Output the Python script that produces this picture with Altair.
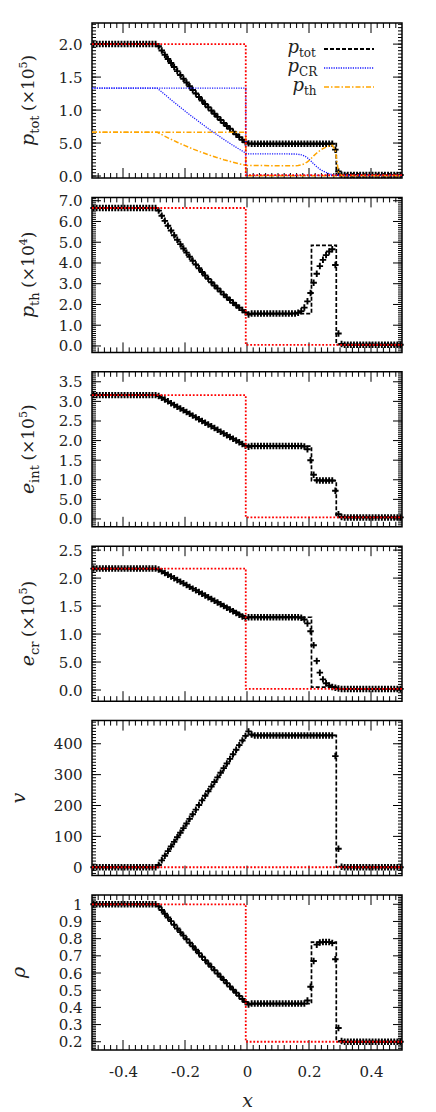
import altair as alt
import pandas as pd

FONT = "DejaVu Serif"
TXT = "#222222"
W, H = 310, 155
GAP = 19.4

# ---------------- data ----------------
X_SIM = [
    -0.495, -0.485, -0.475, -0.465, -0.455, -0.445, -0.435, -0.425, -0.415, -0.405,
    -0.395, -0.385, -0.375, -0.365, -0.355, -0.345, -0.335, -0.325, -0.315, -0.305,
    -0.295, -0.285, -0.275, -0.265, -0.255, -0.245, -0.235, -0.225, -0.215, -0.205,
    -0.195, -0.185, -0.175, -0.165, -0.155, -0.145, -0.135, -0.125, -0.115, -0.105,
    -0.095, -0.085, -0.075, -0.065, -0.055, -0.045, -0.035, -0.025, -0.015, -0.005,
    0.005, 0.015, 0.025, 0.035, 0.045, 0.055, 0.065, 0.075, 0.085, 0.095,
    0.105, 0.115, 0.125, 0.135, 0.145, 0.155, 0.165, 0.175, 0.185, 0.195,
    0.205, 0.215, 0.225, 0.235, 0.245, 0.255, 0.265, 0.275, 0.285, 0.295,
    0.305, 0.315, 0.325, 0.335, 0.345, 0.355, 0.365, 0.375, 0.385, 0.395,
    0.405, 0.415, 0.425, 0.435, 0.445, 0.455, 0.465, 0.475, 0.485, 0.495,
]

P_TOT_SIM = [  # x 1e5
    2.0, 2.0, 2.0, 2.0, 2.0, 2.0, 2.0, 2.0, 2.0, 2.0,
    2.0, 2.0, 2.0, 2.0, 2.0, 2.0, 2.0, 2.0, 2.0, 2.0,
    2.0, 1.967, 1.902, 1.838, 1.775, 1.713, 1.652, 1.591, 1.532, 1.474,
    1.417, 1.360, 1.305, 1.250, 1.197, 1.145, 1.093, 1.042, 0.993, 0.944,
    0.897, 0.850, 0.804, 0.759, 0.716, 0.673, 0.631, 0.590, 0.550, 0.511,
    0.495, 0.49, 0.49, 0.49, 0.49, 0.49, 0.49, 0.49, 0.49, 0.49,
    0.49, 0.49, 0.49, 0.49, 0.49, 0.49, 0.49, 0.49, 0.49, 0.49,
    0.49, 0.49, 0.49, 0.49, 0.49, 0.49, 0.49, 0.49, 0.40, 0.07,
    0.02, 0.015, 0.015, 0.015, 0.015, 0.015, 0.015, 0.015, 0.015, 0.015,
    0.015, 0.015, 0.015, 0.015, 0.015, 0.015, 0.015, 0.015, 0.015, 0.015,
]

P_TH_SIM = [  # x 1e4
    6.65, 6.65, 6.65, 6.65, 6.65, 6.65, 6.65, 6.65, 6.65, 6.65,
    6.65, 6.65, 6.65, 6.65, 6.65, 6.65, 6.65, 6.65, 6.65, 6.65,
    6.65, 6.523, 6.274, 6.031, 5.796, 5.565, 5.339, 5.121, 4.907, 4.700,
    4.497, 4.301, 4.110, 3.924, 3.744, 3.568, 3.398, 3.233, 3.072, 2.917,
    2.766, 2.621, 2.480, 2.344, 2.212, 2.085, 1.962, 1.844, 1.729, 1.620,
    1.52, 1.56, 1.56, 1.56, 1.56, 1.56, 1.56, 1.56, 1.56, 1.56,
    1.56, 1.56, 1.56, 1.56, 1.56, 1.57, 1.60, 1.68, 1.85, 2.15,
    2.55, 3.05, 3.48, 3.85, 4.15, 4.38, 4.55, 4.66, 3.90, 0.60,
    0.10, 0.06, 0.06, 0.06, 0.06, 0.06, 0.06, 0.06, 0.06, 0.06,
    0.06, 0.06, 0.06, 0.06, 0.06, 0.06, 0.06, 0.06, 0.06, 0.06,
]

E_INT_SIM = [  # x 1e5
    3.16, 3.16, 3.16, 3.16, 3.16, 3.16, 3.16, 3.16, 3.16, 3.16,
    3.16, 3.16, 3.16, 3.16, 3.16, 3.16, 3.16, 3.16, 3.16, 3.16,
    3.16, 3.137, 3.092, 3.046, 3.001, 2.955, 2.910, 2.865, 2.819, 2.774,
    2.728, 2.683, 2.637, 2.592, 2.546, 2.501, 2.455, 2.410, 2.365, 2.319,
    2.274, 2.228, 2.183, 2.137, 2.092, 2.046, 2.001, 1.956, 1.910, 1.865,
    1.84, 1.86, 1.86, 1.86, 1.86, 1.86, 1.86, 1.86, 1.86, 1.86,
    1.86, 1.86, 1.86, 1.86, 1.86, 1.86, 1.86, 1.86, 1.85, 1.78,
    1.50, 1.13, 0.99, 0.98, 0.98, 0.98, 0.98, 0.98, 0.72, 0.12,
    0.05, 0.04, 0.04, 0.04, 0.04, 0.04, 0.04, 0.04, 0.04, 0.04,
    0.04, 0.04, 0.04, 0.04, 0.04, 0.04, 0.04, 0.04, 0.04, 0.04,
]

E_CR_SIM = [  # x 1e5
    2.17, 2.17, 2.17, 2.17, 2.17, 2.17, 2.17, 2.17, 2.17, 2.17,
    2.17, 2.17, 2.17, 2.17, 2.17, 2.17, 2.17, 2.17, 2.17, 2.17,
    2.17, 2.154, 2.123, 2.092, 2.061, 2.030, 1.999, 1.968, 1.937, 1.906,
    1.875, 1.843, 1.812, 1.781, 1.750, 1.719, 1.688, 1.657, 1.626, 1.595,
    1.564, 1.532, 1.501, 1.470, 1.439, 1.408, 1.377, 1.346, 1.315, 1.284,
    1.30, 1.30, 1.30, 1.30, 1.30, 1.30, 1.30, 1.30, 1.30, 1.30,
    1.30, 1.30, 1.30, 1.30, 1.30, 1.30, 1.30, 1.29, 1.26, 1.19,
    1.05, 0.80, 0.52, 0.31, 0.19, 0.12, 0.08, 0.055, 0.04, 0.025,
    0.02, 0.02, 0.02, 0.02, 0.02, 0.02, 0.02, 0.02, 0.02, 0.02,
    0.02, 0.02, 0.02, 0.02, 0.02, 0.02, 0.02, 0.02, 0.02, 0.02,
]

V_SIM = [
    0, 0, 0, 0, 0, 0, 0, 0, 0, 0,
    0, 0, 0, 0, 0, 0, 0, 0, 0, 0,
    0, 7.5, 22.4, 37.3, 52.3, 67.2, 82.1, 97.0, 112.0, 126.9,
    141.8, 156.8, 171.7, 186.6, 201.6, 216.5, 231.4, 246.3, 261.3, 276.2,
    291.1, 306.1, 321.0, 335.9, 350.9, 365.8, 380.7, 395.6, 410.6, 425.5,
    440, 430, 427, 427, 427, 427, 427, 427, 427, 427,
    427, 427, 427, 427, 427, 427, 427, 427, 427, 427,
    427, 427, 427, 427, 427, 427, 427, 427, 360, 60,
    2, 0, 0, 0, 0, 0, 0, 0, 0, 0,
    0, 0, 0, 0, 0, 0, 0, 0, 0, 0,
]

RHO_SIM = [
    1.0, 1.0, 1.0, 1.0, 1.0, 1.0, 1.0, 1.0, 1.0, 1.0,
    1.0, 1.0, 1.0, 1.0, 1.0, 1.0, 1.0, 1.0, 1.0, 1.0,
    1.0, 0.9889, 0.9670, 0.9451, 0.9234, 0.9019, 0.8805, 0.8593, 0.8382, 0.8173,
    0.7965, 0.7759, 0.7555, 0.7352, 0.7150, 0.6950, 0.6751, 0.6554, 0.6359, 0.6165,
    0.5972, 0.5782, 0.5592, 0.5404, 0.5218, 0.5033, 0.4850, 0.4668, 0.4488, 0.4309,
    0.416, 0.422, 0.422, 0.422, 0.422, 0.422, 0.422, 0.422, 0.422, 0.422,
    0.422, 0.422, 0.422, 0.422, 0.422, 0.422, 0.422, 0.422, 0.422, 0.44,
    0.52, 0.67, 0.765, 0.778, 0.78, 0.78, 0.78, 0.775, 0.68, 0.28,
    0.205, 0.2, 0.2, 0.2, 0.2, 0.2, 0.2, 0.2, 0.2, 0.2,
    0.2, 0.2, 0.2, 0.2, 0.2, 0.2, 0.2, 0.2, 0.2, 0.2,
]

# panel 1 coloured simulation curves (x 1e5)
X_P1_LINES = [-0.5, -0.29, -0.27, -0.25, -0.225, -0.2, -0.175, -0.15, -0.125, -0.1,
              -0.075, -0.05, -0.025, 0.0, 0.155, 0.165, 0.175, 0.185, 0.195, 0.205,
              0.215, 0.225, 0.235, 0.245, 0.255, 0.265, 0.275, 0.285, 0.295, 0.305, 0.5]
P_CR_LINE = [1.333, 1.333, 1.255, 1.176, 1.079, 0.985, 0.894, 0.806, 0.719, 0.636,
             0.556, 0.479, 0.406, 0.336, 0.334, 0.330, 0.322, 0.305, 0.275, 0.235,
             0.185, 0.142, 0.105, 0.075, 0.054, 0.035, 0.024, 0.015, 0.010, 0.008, 0.008]
P_TH_LINE = [0.665, 0.665, 0.615, 0.568, 0.512, 0.460, 0.411, 0.366, 0.323, 0.284,
             0.248, 0.215, 0.184, 0.158, 0.157, 0.160, 0.168, 0.185, 0.215, 0.255,
             0.305, 0.348, 0.385, 0.415, 0.438, 0.455, 0.466, 0.39, 0.06, 0.008, 0.006]

# analytic solutions
AN_X_RAREF = [-0.5, -0.29, -0.25, -0.2, -0.15, -0.1, -0.05, 0.0, 0.288, 0.288, 0.5]
AN_P_TOT = [2.0, 2.0, 1.744, 1.445, 1.171, 0.920, 0.694, 0.49, 0.49, 0.015, 0.015]
AN_X_CONT = [-0.5, -0.29, -0.25, -0.2, -0.15, -0.1, -0.05, 0.0, 0.208, 0.208, 0.288, 0.288, 0.5]
AN_P_TH = [6.65, 6.65, 5.68, 4.598, 3.655, 2.841, 2.148, 1.56, 1.56, 4.85, 4.85, 0.06, 0.06]
AN_RHO = [1.0, 1.0, 0.9127, 0.8069, 0.705, 0.6069, 0.5125, 0.422, 0.422, 0.78, 0.78, 0.2, 0.2]
AN_X_LIN = [-0.5, -0.29, 0.0, 0.208, 0.208, 0.288, 0.288, 0.5]
AN_E_INT = [3.16, 3.16, 1.86, 1.86, 0.98, 0.98, 0.04, 0.04]
AN_E_CR = [2.17, 2.17, 1.30, 1.30, 0.05, 0.05, 0.02, 0.02]
AN_X_V = [-0.5, -0.29, 0.0, 0.288, 0.288, 0.5]
AN_V = [0, 0, 427, 427, 0, 0]

# initial conditions
INI_X = [-0.5, -0.004, -0.004, 0.5]
INI_P_TOT = [2.0, 2.0, 0.015, 0.015]
INI_P_CR = [1.333, 1.333, 0.008, 0.008]
INI_P_TH5 = [0.665, 0.665, 0.006, 0.006]
INI_P_TH = [6.65, 6.65, 0.05, 0.05]
INI_E_INT = [3.16, 3.16, 0.04, 0.04]
INI_E_CR = [2.17, 2.17, 0.02, 0.02]
INI_V = [0, 0, 0, 0]
INI_RHO = [1.0, 1.0, 0.2, 0.2]

X_TICK_LABELS = [-0.4, -0.2, 0.0, 0.2, 0.4]

# ---------------- helpers ----------------
XS = alt.Scale(domain=[-0.5, 0.5], nice=False, zero=False)
PLUS = "M-1,0L1,0M0,-1L0,1"
X_MIN = [round(-0.48 + 0.02 * i, 2) for i in range(49)]
X_MIN = [v for v in X_MIN if all(abs(v - m) > 1e-9 for m in X_TICK_LABELS)]


def steps(lo, hi, step):
    n = int(round((hi - lo) / step))
    return [round(lo + step * i, 4) for i in range(n + 1)]


def line_df(xs, ys):
    return pd.DataFrame({"x": xs, "y": ys, "i": list(range(len(xs)))})


def one():
    return pd.DataFrame({"a": [0]})


def rot_title(pieces, xb, y0):
    out = []
    for txt, size, style, dx, dy in pieces:
        out.append(
            alt.Chart(pd.DataFrame({"t": [txt]}))
            .mark_text(angle=270, align="left", baseline="alphabetic", font=FONT,
                       fontSize=size, fontStyle=style, color=TXT, dx=dx, dy=dy)
            .encode(text="t:N", x=alt.value(xb), y=alt.value(y0))
        )
    return out


def text_at(txt, x, y, size, style, align):
    return (
        alt.Chart(pd.DataFrame({"t": [txt]}))
        .mark_text(align=align, baseline="alphabetic", font=FONT, fontSize=size,
                   fontStyle=style, color=TXT)
        .encode(text="t:N", x=alt.value(x), y=alt.value(y))
    )


def panel(ylo, yhi, majors, minors, lab_expr, sim, an_x, an_y, ini_y,
          titles, bottom=False, extra=None):
    ysc = alt.Scale(domain=[ylo, yhi], nice=False, zero=False)
    yax = alt.Axis(values=majors, labelExpr=lab_expr, ticks=False,
                   domain=False, grid=False, labelFont=FONT, labelFontSize=15,
                   labelColor=TXT, labelPadding=10, labelOverlap=False,
                   labelFlush=False, title=None)
    if bottom:
        xax = alt.Axis(values=X_TICK_LABELS,
                       labelExpr="datum.value == 0 ? '0' : (datum.value < 0 ? '-' + format(-datum.value, '.1f') : format(datum.value, '.1f'))",
                       ticks=False, domain=False, grid=False,
                       labelFont=FONT, labelFontSize=15, labelColor=TXT,
                       labelPadding=14, labelOverlap=False, labelFlush=False,
                       title="x", titleFont=FONT, titleFontSize=19,
                       titleFontStyle="italic", titleFontWeight="normal",
                       titleColor=TXT, titlePadding=12)
    else:
        xax = None

    def X(field):
        return alt.X(f"{field}:Q", scale=XS, axis=xax)

    def Y(field):
        return alt.Y(f"{field}:Q", scale=ysc, axis=yax)

    layers = []
    sim_layer = (
        alt.Chart(pd.DataFrame({"x": X_SIM, "y": sim}))
        .mark_point(shape=PLUS, size=42, filled=False, color="black",
                    strokeWidth=1.9, opacity=1)
        .encode(x=X("x"), y=Y("y"))
    )
    # inward ticks on all four sides
    for vals, ln in ((X_TICK_LABELS, 10), (X_MIN, 5)):
        d = pd.DataFrame({"v": vals})
        layers.append(alt.Chart(d).mark_rule(color="black", strokeWidth=1)
                      .encode(x=X("v"), y=alt.value(H), y2=alt.value(H - ln)))
        layers.append(alt.Chart(d).mark_rule(color="black", strokeWidth=1)
                      .encode(x=X("v"), y=alt.value(0), y2=alt.value(ln)))
    for vals, ln in ((majors, 9), (minors, 4)):
        d = pd.DataFrame({"v": vals})
        layers.append(alt.Chart(d).mark_rule(color="black", strokeWidth=1)
                      .encode(y=Y("v"), x=alt.value(0), x2=alt.value(ln)))
        layers.append(alt.Chart(d).mark_rule(color="black", strokeWidth=1)
                      .encode(y=Y("v"), x=alt.value(W - ln), x2=alt.value(W)))

    # analytic solution (dashed)
    layers.append(
        alt.Chart(line_df(an_x, an_y))
        .mark_line(color="black", strokeDash=[4, 2], strokeWidth=1.7)
        .encode(x=X("x"), y=Y("y"), order="i:Q")
    )
    layers.append(sim_layer)
    if extra:
        for xs, ys_, col, dash, sw in extra:
            layers.append(
                alt.Chart(line_df(xs, ys_))
                .mark_line(color=col, strokeDash=dash, strokeWidth=sw)
                .encode(x=X("x"), y=Y("y"), order="i:Q")
            )
    # initial condition (red dotted)
    layers.append(
        alt.Chart(line_df(INI_X, ini_y))
        .mark_line(color="#ff0000", strokeDash=[1.8, 1.8], strokeWidth=1.8)
        .encode(x=X("x"), y=Y("y"), order="i:Q")
    )
    layers.extend(titles)
    return layers


BLUE = "#1a1aff"
ORANGE = "#ffa500"
DASH_BLUE = [1.2, 1.2]
DASH_ORANGE = [5, 2, 1.5, 2]

# ---------- panel 1 ----------
p1_extra = [
    (INI_X, INI_P_CR, BLUE, DASH_BLUE, 1.3),
    (INI_X, INI_P_TH5, ORANGE, DASH_ORANGE, 1.5),
    (X_P1_LINES, P_CR_LINE, BLUE, DASH_BLUE, 1.3),
    (X_P1_LINES, P_TH_LINE, ORANGE, DASH_ORANGE, 1.5),
]
t1 = rot_title([("p", 19, "italic", 0, 0), ("tot", 13, "normal", 12.2, 5),
                ("(×10", 17, "normal", 35.0, 0), ("5", 11, "normal", 77.5, -7),
                (")", 17, "normal", 84.5, 0)], -58, 123)
legend = [
    alt.Chart(one()).mark_rule(color="black", strokeDash=[4, 2], strokeWidth=1.8)
    .encode(x=alt.value(232), x2=alt.value(282), y=alt.value(26)),
    alt.Chart(one()).mark_rule(color=BLUE, strokeDash=DASH_BLUE, strokeWidth=1.4)
    .encode(x=alt.value(232), x2=alt.value(282), y=alt.value(45)),
    alt.Chart(one()).mark_rule(color=ORANGE, strokeDash=DASH_ORANGE, strokeWidth=1.6)
    .encode(x=alt.value(232), x2=alt.value(282), y=alt.value(64)),
    text_at("p", 207, 30, 18, "italic", "right"),
    text_at("tot", 207, 33.5, 12, "normal", "left"),
    text_at("p", 207, 49, 18, "italic", "right"),
    text_at("CR", 207, 52.5, 12, "normal", "left"),
    text_at("p", 212, 68, 18, "italic", "right"),
    text_at("th", 212, 71.5, 12, "normal", "left"),
    # invisible corner that fixes the outer extent of the figure
    alt.Chart(one()).mark_rule(color="white", strokeWidth=0.5)
    .encode(x=alt.value(-83), x2=alt.value(-82), y=alt.value(-9)),
]
L1 = panel(-0.03, 2.32, [0.0, 0.5, 1.0, 1.5, 2.0], steps(0.0, 2.3, 0.05),
           "datum.value == 0.5 ? '5.0' : format(datum.value, '.1f')",
           P_TOT_SIM, AN_X_RAREF, AN_P_TOT, INI_P_TOT, t1 + legend, extra=p1_extra)

# ---------- panel 2 ----------
t2 = rot_title([("p", 19, "italic", 0, 0), ("th", 13, "normal", 12.2, 5),
                ("(×10", 17, "normal", 30.3, 0), ("4", 11, "normal", 72.8, -7),
                (")", 17, "normal", 79.8, 0)], -58, 120.7)
L2 = panel(-0.31, 7.16, [0, 1, 2, 3, 4, 5, 6, 7], steps(-0.3, 7.1, 0.1),
           "format(datum.value, '.1f')",
           P_TH_SIM, AN_X_CONT, AN_P_TH, INI_P_TH, t2)

# ---------- panel 3 ----------
t3 = rot_title([("e", 19, "italic", 0, 0), ("int", 13, "normal", 11.2, 5),
                ("(×10", 17, "normal", 33.5, 0), ("5", 11, "normal", 76.0, -7),
                (")", 17, "normal", 83.0, 0)], -58, 122.3)
L3 = panel(-0.2, 3.755, [0.0, 0.5, 1.0, 1.5, 2.0, 2.5, 3.0, 3.5], steps(-0.15, 3.75, 0.05),
           "datum.value == 0.5 ? '5.0' : format(datum.value, '.1f')",
           E_INT_SIM, AN_X_LIN, AN_E_INT, INI_E_INT, t3)

# ---------- panel 4 ----------
t4 = rot_title([("e", 19, "italic", 0, 0), ("cr", 13, "normal", 11.2, 5),
                ("(×10", 17, "normal", 29.2, 0), ("5", 11, "normal", 71.7, -7),
                (")", 17, "normal", 78.7, 0)], -58, 120.1)
L4 = panel(-0.2, 2.57, [0.0, 0.5, 1.0, 1.5, 2.0, 2.5], steps(-0.15, 2.55, 0.05),
           "datum.value == 0.5 ? '5.0' : format(datum.value, '.1f')",
           E_CR_SIM, AN_X_LIN, AN_E_CR, INI_E_CR, t4)

# ---------- panel 5 ----------
t5 = [alt.Chart(pd.DataFrame({"t": ["v"]}))
      .mark_text(angle=270, align="center", baseline="alphabetic", font=FONT,
                 fontSize=19, fontStyle="italic", color=TXT)
      .encode(text="t:N", x=alt.value(-67.5), y=alt.value(77.5))]
L5 = panel(-27, 475, [0, 100, 200, 300, 400], steps(-20, 470, 10),
           "format(datum.value, 'd')",
           V_SIM, AN_X_V, AN_V, INI_V, t5)

# ---------- panel 6 ----------
t6 = [alt.Chart(pd.DataFrame({"t": ["ρ"]}))
      .mark_text(angle=270, align="center", baseline="alphabetic", font=FONT,
                 fontSize=19, fontStyle="italic", color=TXT)
      .encode(text="t:N", x=alt.value(-67.5), y=alt.value(77.5))]
L6 = panel(0.152, 1.054, [0.2, 0.3, 0.4, 0.5, 0.6, 0.7, 0.8, 0.9, 1.0],
           steps(0.16, 1.05, 0.01),
           "datum.value == 1 ? '1' : format(datum.value, '.1f')",
           RHO_SIM, AN_X_CONT, AN_RHO, INI_RHO, t6, bottom=True)

panels = [alt.layer(*L).properties(width=W, height=H) for L in (L1, L2, L3, L4, L5, L6)]

chart = (
    alt.vconcat(*panels, spacing=GAP, bounds="flush")
    .properties(padding={"left": 0, "top": 5, "right": 5, "bottom": 5},
                background="white")
    .configure_view(stroke="black", strokeWidth=1.5)
)

chart.save("out.html", embed_options={"renderer": "svg", "actions": False})
